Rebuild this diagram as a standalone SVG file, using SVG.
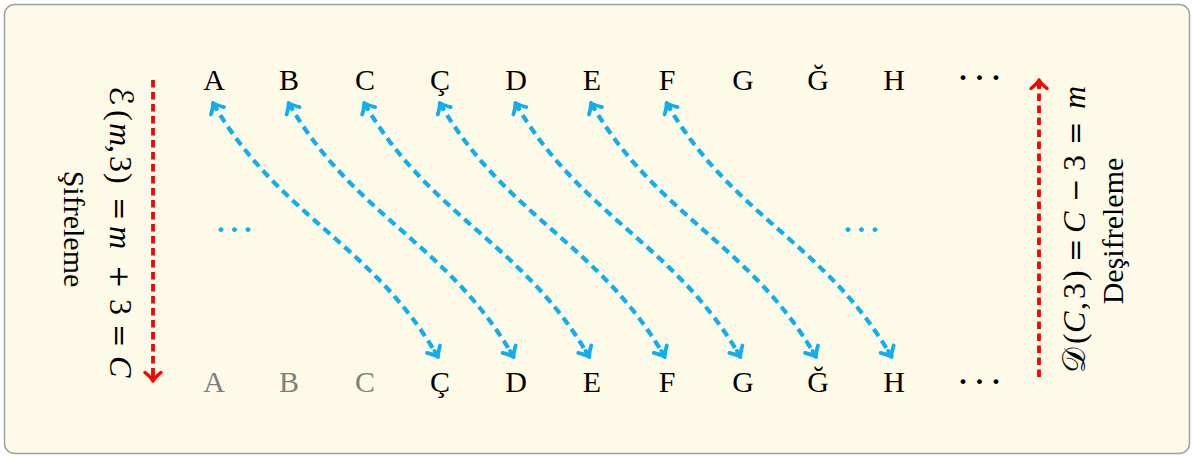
<svg xmlns="http://www.w3.org/2000/svg" width="1194" height="458" viewBox="0 0 1194 458">
  <style>
    .lt { font-family: "Liberation Serif", "DejaVu Serif", serif; font-size: 30px; fill: #000; text-anchor: middle; }
    .gray { fill: #808080; }
    .dots { font-family: "Liberation Serif", serif; font-size: 30px; font-weight: bold; text-anchor: start; letter-spacing: 6.5px; }
    .math { font-family: "Liberation Serif", "DejaVu Serif", "DejaVu Sans", serif; font-size: 32px; fill: #000; }
    .it { font-style: italic; }
    .op { font-family: "DejaVu Serif", "Liberation Serif", serif; font-size: 28px; }
    .cal { font-family: "DejaVu Serif", "DejaVu Sans", "Liberation Serif", serif; font-style: normal; }
    .word { font-family: "Liberation Serif", serif; font-size: 30px; fill: #000; text-anchor: middle; }
    .shift { fill: none; stroke: #0eaef0; stroke-width: 4.2; stroke-dasharray: 8.5 5.5; marker-start: url(#tipC); marker-end: url(#tipC); }
    .dir { fill: none; stroke: #ff0000; stroke-width: 3.8; stroke-dasharray: 7.5 4.5; marker-end: url(#tipR); }
  </style>
  <defs>
    <marker id="tipC" markerUnits="userSpaceOnUse" viewBox="-12 -10 14 20" markerWidth="14" markerHeight="20" refX="0" refY="0" orient="auto-start-reverse" overflow="visible">
      <path d="M-9,-7.5 Q-3.5,-1.8 0,0 Q-3.5,1.8 -9,7.5 M-7,0 L0,0" fill="none" stroke="#0eaef0" stroke-width="3.8" stroke-linecap="round" stroke-linejoin="round"/>
    </marker>
    <marker id="tipR" markerUnits="userSpaceOnUse" viewBox="-12 -10 14 20" markerWidth="14" markerHeight="20" refX="0" refY="0" orient="auto" overflow="visible">
      <path d="M-8.5,-8 Q-3.5,-1.8 0,0 Q-3.5,1.8 -8.5,8 M-7,0 L0,0" fill="none" stroke="#ff0000" stroke-width="3.5" stroke-linecap="round" stroke-linejoin="round"/>
    </marker>
  </defs>

  <!-- panel -->
  <rect x="4.5" y="4.5" width="1185" height="449" rx="10" ry="10" fill="#fefae8" stroke="#a0a0a0" stroke-width="1.5"/>

  <!-- plain alphabet (top row) -->
  <g id="plain">
    <text class="lt" x="214" y="90">A</text>
    <text class="lt" x="289" y="90">B</text>
    <text class="lt" x="365" y="90">C</text>
    <text class="lt" x="440" y="90">Ç</text>
    <text class="lt" x="516" y="90">D</text>
    <text class="lt" x="592" y="90">E</text>
    <text class="lt" x="667" y="90">F</text>
    <text class="lt" x="743" y="90">G</text>
    <text class="lt" x="818" y="90">Ğ</text>
    <text class="lt" x="894" y="90">H</text>
    <text class="dots" x="958" y="87">···</text>
  </g>

  <!-- cipher alphabet (bottom row) -->
  <g id="cipher">
    <text class="lt gray" x="214" y="392">A</text>
    <text class="lt gray" x="289" y="392">B</text>
    <text class="lt gray" x="365" y="392">C</text>
    <text class="lt" x="440" y="392">Ç</text>
    <text class="lt" x="516" y="392">D</text>
    <text class="lt" x="592" y="392">E</text>
    <text class="lt" x="667" y="392">F</text>
    <text class="lt" x="743" y="392">G</text>
    <text class="lt" x="818" y="392">Ğ</text>
    <text class="lt" x="894" y="392">H</text>
    <text class="dots" x="958" y="391">···</text>
  </g>

  <!-- shift mappings -->
  <g id="connectors">
    <path class="shift" d="M213,103 C278,216 373,244 438,357"/>
    <path class="shift" d="M288.6,103 C353.6,216 448.6,244 513.6,357"/>
    <path class="shift" d="M364.2,103 C429.2,216 524.2,244 589.2,357"/>
    <path class="shift" d="M439.8,103 C504.8,216 599.8,244 664.8,357"/>
    <path class="shift" d="M515.4,103 C580.4,216 675.4,244 740.4,357"/>
    <path class="shift" d="M591,103 C656,216 751,244 816,357"/>
    <path class="shift" d="M666.6,103 C731.6,216 826.6,244 891.6,357"/>
    <path class="dir" d="M153,80 L153,381"/>
    <path class="dir" d="M1039,377 L1039,80"/>
  </g>

  <!-- ellipses between mappings -->
  <g id="gaps" font-family="Liberation Serif, serif" font-size="30" font-weight="bold" fill="#0eaef0" letter-spacing="6">
    <text x="217" y="232">...</text>
    <text x="844" y="232">...</text>
  </g>

  <!-- encryption label -->
  <g id="encrypt">
    <text class="math" transform="translate(110,86) rotate(90)"><tspan class="cal" x="0">ℰ</tspan><tspan x="24">(</tspan><tspan class="it" x="37">m</tspan><tspan x="59">,</tspan><tspan x="70">3</tspan><tspan x="87">)</tspan><tspan class="op" x="111">=</tspan><tspan class="it" x="140">m</tspan><tspan class="op" x="179">+</tspan><tspan x="213">3</tspan><tspan class="op" x="238">=</tspan><tspan class="it" x="270">C</tspan></text>
    <text class="word" transform="translate(64,229) rotate(90)">Şifreleme</text>
  </g>

  <!-- decryption label -->
  <g id="decrypt">
    <text class="math" transform="translate(1085,373) rotate(-90)"><tspan class="cal" x="0">𝒟</tspan><tspan x="29">(</tspan><tspan class="it" x="40">C</tspan><tspan x="63">,</tspan><tspan x="74">3</tspan><tspan x="92">)</tspan><tspan class="op" x="111">=</tspan><tspan class="it" x="140">C</tspan><tspan class="op" x="171">−</tspan><tspan x="202">3</tspan><tspan class="op" x="228">=</tspan><tspan class="it" x="264">m</tspan></text>
    <text class="word" transform="translate(1123,231) rotate(-90)">Deşifreleme</text>
  </g>
</svg>
